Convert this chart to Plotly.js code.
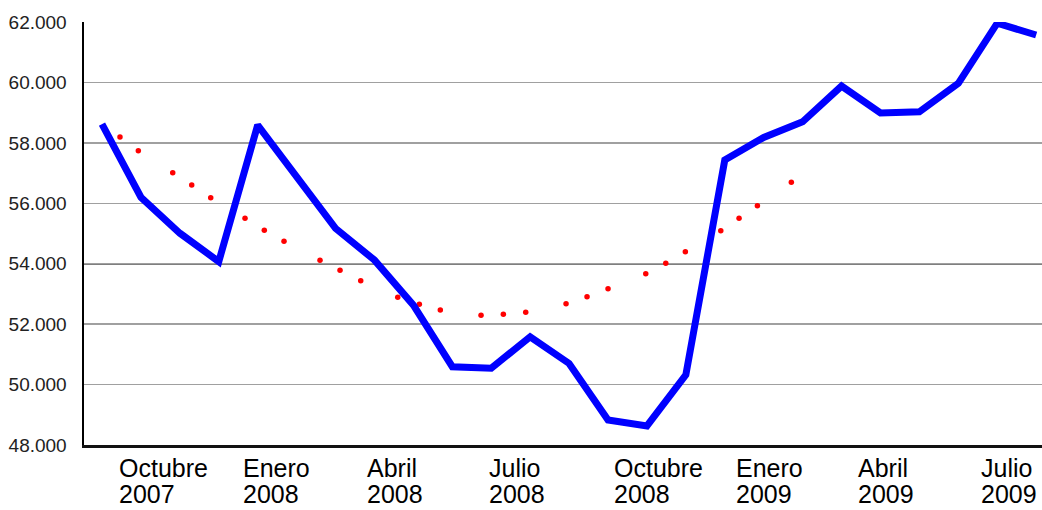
<!DOCTYPE html>
<html>
<head>
<meta charset="utf-8">
<script src="https://cdn.plot.ly/plotly-3.0.1.min.js"></script>
<style>
  html, body { margin: 0; padding: 0; background: #ffffff; }
  #chart { width: 1042px; height: 510px; }
</style>
</head>
<body>
<div id="chart"></div>
<script>
// Monthly series (index 0 .. 24)
const monthIndex = [0,1,2,3,4,5,6,7,8,9,10,11,12,13,14,15,16,17,18,19,20,21,22,23,24];
const seriesValues = [58620, 56200, 55010, 54070, 58590, 56850, 55170, 54120, 52630, 50590,
                      50540, 51580, 50700, 48830, 48630, 50320, 57430, 58180, 58700, 59880,
                      58990, 59030, 59970, 61960, 61570];

// Dotted red trend (dots, x in month-index units)
const trendX = [0.462, 0.933, 1.817, 2.305, 2.793, 3.674, 4.170, 4.676, 5.601, 6.115,
                6.647, 7.598, 8.153, 8.692, 9.738, 10.311, 10.886, 11.922, 12.461, 13.001,
                13.970, 14.484, 14.987, 15.897, 16.367, 16.838, 17.710];
const trendY = [58193, 57740, 57012, 56604, 56184, 55502, 55105, 54741, 54112, 53781,
                53436, 52887, 52655, 52467, 52291, 52324, 52391, 52675, 52907, 53172,
                53668, 54013, 54397, 55092, 55502, 55919, 56694];

// X-axis labels (month / year) and where they sit (month-index units)
const tickMonths = ["Octubre", "Enero", "Abril", "Julio", "Octubre", "Enero", "Abril", "Julio"];
const tickYears = ["2007", "2008", "2008", "2008", "2008", "2009", "2009", "2009"];
const tickPositions = [0.385, 3.579, 6.750, 9.892, 13.111, 16.238, 19.365, 22.525];

// Reference line value
const referenceLine = 54000;

const font = "Liberation Sans, Arial, sans-serif";

const traces = [
  {
    x: trendX, y: trendY,
    type: "scatter", mode: "markers",
    marker: { color: "#ff0000", size: 5.5 },
    hoverinfo: "skip", showlegend: false
  },
  {
    x: monthIndex, y: seriesValues,
    type: "scatter", mode: "lines",
    line: { color: "#0000ff", width: 7 },
    showlegend: false
  }
];

const annotations = [];
tickMonths.forEach((t, i) => {
  annotations.push({
    x: tickPositions[i], xref: "x",
    y: -0.0165, yref: "paper",
    xanchor: "left", yanchor: "top", align: "left",
    text: t, showarrow: false,
    font: { family: font, size: 25, color: "#000000" }
  });
  annotations.push({
    x: tickPositions[i], xref: "x",
    y: -65 / 423, yref: "paper",
    xanchor: "left", yanchor: "bottom", align: "left",
    text: tickYears[i], showarrow: false,
    font: { family: font, size: 25, color: "#000000" }
  });
});

const layout = {
  width: 1042, height: 510,
  margin: { l: 84, r: 0, t: 22, b: 65, pad: 0 },
  paper_bgcolor: "#ffffff", plot_bgcolor: "#ffffff",
  separators: ",.",
  showlegend: false,
  xaxis: {
    range: [-0.4625, 24.15],
    showgrid: false, zeroline: false, showticklabels: false, ticks: "",
    showline: true, linecolor: "#111111", linewidth: 2.5
  },
  yaxis: {
    range: [48000, 62000], dtick: 2000, tick0: 48000,
    tickformat: ",.0f",
    showgrid: true, gridcolor: "#a0a0a0", gridwidth: 1.5,
    zeroline: false, ticks: "",
    showline: true, linecolor: "#000000", linewidth: 2.5,
    ticklabelstandoff: 11,
    tickfont: { family: font, size: 19, color: "#222222" }
  },
  shapes: [{
    type: "line", xref: "paper", x0: 0, x1: 1,
    yref: "y", y0: referenceLine, y1: referenceLine,
    line: { color: "#000000", width: 1.5 }, layer: "below"
  }],
  annotations: annotations
};

Plotly.newPlot("chart", traces, layout, { staticPlot: true, displayModeBar: false });
</script>
</body>
</html>
